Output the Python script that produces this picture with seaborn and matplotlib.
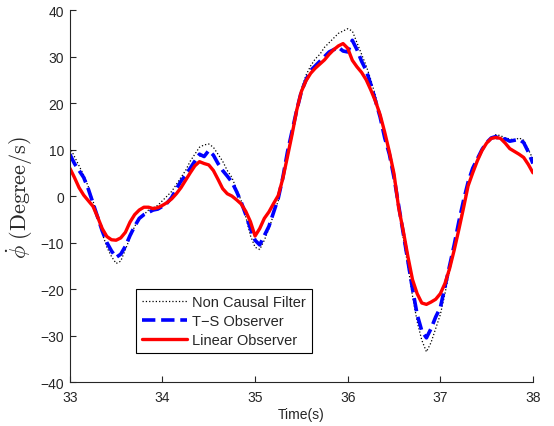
import numpy as np
import seaborn as sns
import matplotlib.pyplot as plt

# time axis, 0.05 s steps from 33 s to 38 s
time_s = np.round(np.linspace(33, 38, 101), 2)

# angular rate (degree/s)
non_causal = [
    10.5, 8.5, 6.5, 4.5, 2.0, -1.0, -4.5, -8.0, -11.0, -13.0,
    -14.5, -14.0, -11.5, -9.0, -6.5, -5.0, -4.0, -3.0, -2.5, -2.0,
    -1.0, 0.0, 1.0, 2.5, 4.0, 5.5, 7.5, 9.0, 10.5, 11.0,
    11.2, 10.5, 9.0, 7.5, 5.5, 4.0, 1.5, -1.0, -4.5, -8.5,
    -11.0, -11.5, -9.5, -7.0, -4.0, -1.0, 3.5, 9.0, 14.0, 19.0,
    23.0, 26.0, 28.0, 29.5, 30.5, 32.0, 33.0, 34.0, 35.0, 35.5,
    36.0, 35.5, 33.0, 30.5, 28.0, 25.0, 21.5, 17.5, 13.0, 9.0,
    3.5, -2.5, -9.0, -15.0, -21.5, -27.0, -31.0, -33.5, -31.5, -28.5,
    -25.5, -21.0, -16.0, -11.5, -6.5, -1.5, 2.5, 5.5, 8.0, 10.0,
    11.5, 12.5, 13.2, 13.0, 12.5, 12.3, 12.0, 12.5, 12.0, 10.0,
    8.0,
]
ts_observer = [
    9.0, 7.0, 5.5, 4.0, 1.5, -1.5, -4.5, -7.5, -10.0, -11.8,
    -13.2, -12.5, -10.8, -8.5, -6.5, -4.8, -4.0, -3.5, -3.0, -2.8,
    -2.2, -1.5, -0.3, 1.5, 3.2, 4.5, 6.0, 7.5, 9.0, 8.5,
    9.8, 8.8, 7.0, 5.5, 4.3, 3.0, 1.0, -1.3, -4.0, -7.0,
    -9.5, -10.5, -8.5, -6.5, -3.5, -0.5, 4.0, 9.5, 14.0, 18.5,
    22.5, 25.0, 27.0, 28.0, 29.0, 30.0, 31.0, 31.5, 32.0, 31.2,
    31.0, 33.5, 31.5, 29.0, 27.0, 24.0, 20.5, 17.0, 12.5, 9.0,
    4.0, -2.0, -8.0, -14.0, -20.0, -25.5, -29.0, -30.5, -28.5, -26.0,
    -24.0, -19.5, -15.0, -10.5, -5.5, -1.0, 3.0, 6.0, 8.0, 10.0,
    11.5, 12.5, 12.8, 12.0, 12.3, 11.8, 12.0, 12.2, 11.5, 9.5,
    7.0,
]
linear_observer = [
    6.0, 4.0, 1.8, 0.2, -1.0, -2.2, -4.5, -7.0, -8.7, -9.4,
    -9.5, -9.0, -7.8, -5.6, -4.0, -3.0, -2.4, -2.4, -2.7, -2.5,
    -2.0, -1.4, -0.6, 0.5, 1.8, 3.4, 5.0, 6.5, 7.4, 7.0,
    6.7, 5.5, 3.6, 1.6, 0.5, 0.0, -0.8, -1.7, -3.3, -5.5,
    -8.6, -7.0, -4.8, -3.4, -1.6, 0.1, 3.8, 8.5, 13.3, 18.5,
    22.5, 24.8, 26.4, 27.5, 28.4, 29.3, 30.5, 31.5, 32.3, 32.8,
    31.8, 29.2, 27.8, 26.6, 25.0, 22.8, 20.4, 17.5, 13.7, 9.5,
    4.8, -2.5, -7.5, -13.0, -18.0, -21.0, -23.0, -23.3, -22.8, -22.2,
    -21.0, -18.8, -15.6, -11.6, -7.2, -2.6, 2.2, 5.0, 7.6, 9.8,
    11.4, 12.4, 12.6, 12.4, 11.4, 10.2, 9.6, 9.0, 8.3, 6.8,
    5.0,
]

x_ticks = [33, 34, 35, 36, 37, 38]
y_ticks = [-40, -30, -20, -10, 0, 10, 20, 30, 40]

sns.set_style('ticks')
plt.rcParams['font.family'] = ['Liberation Sans', 'DejaVu Sans']
plt.rcParams['mathtext.fontset'] = 'cm'
plt.rcParams['xtick.direction'] = 'in'
plt.rcParams['ytick.direction'] = 'in'

fig = plt.figure(figsize=(5.54, 4.27), dpi=100)
ax = fig.add_axes([0.126, 0.103, 0.836, 0.871])

sns.lineplot(x=time_s, y=non_causal, ax=ax, color='black', linestyle=':',
             linewidth=0.9, label='Non Causal Filter')
sns.lineplot(x=time_s, y=ts_observer, ax=ax, color='#0000ff', linestyle='--',
             linewidth=2.6, label='T\u2212S Observer')
sns.lineplot(x=time_s, y=linear_observer, ax=ax, color='#ff0000', linestyle='-',
             linewidth=2.4, label='Linear Observer')

ax.set_xlim(33, 38)
ax.set_ylim(-40, 40)
ax.set_xticks(x_ticks)
ax.set_yticks(y_ticks)
ax.set_yticklabels([str(v).replace('-', '\u2212') for v in y_ticks])
ax.tick_params(labelsize=10, length=4, width=0.8, colors='#262626')
ax.tick_params(axis='x', pad=6)
ax.tick_params(axis='y', pad=4)
for side in ['top', 'right']:
    ax.spines[side].set_visible(False)
for side in ['left', 'bottom']:
    ax.spines[side].set_color('#262626')
    ax.spines[side].set_linewidth(0.8)

ax.set_xlabel('Time(s)', fontsize=10, labelpad=2)
ax.set_ylabel(r'$\dot{\phi}\ \mathrm{(Degree/s)}$', fontsize=16, labelpad=4)

leg = ax.legend(loc='upper left', bbox_to_anchor=(0.1425, 0.25), fontsize=10.5,
                handlelength=3.1, fancybox=False, framealpha=1, edgecolor='black',
                borderpad=0.4, labelspacing=0.35, handletextpad=0.35,
                borderaxespad=0)
leg.get_frame().set_linewidth(0.8)

fig.savefig('out.png', dpi=100)
